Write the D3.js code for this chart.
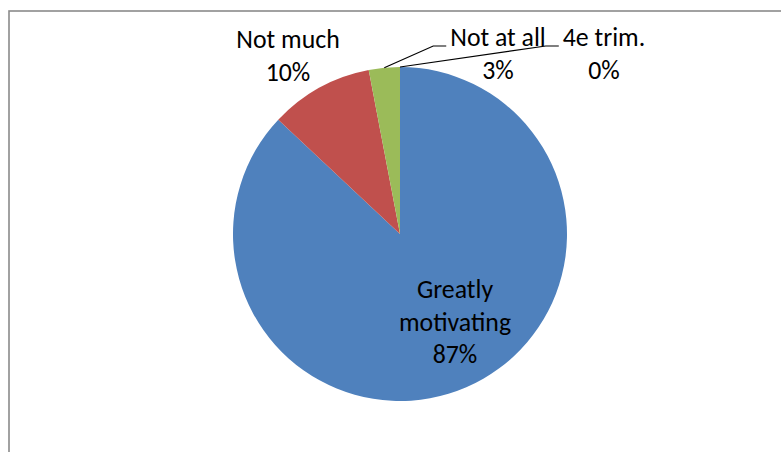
<!DOCTYPE html>
<html>
<head>
<meta charset="utf-8">
<script src="https://cdn.jsdelivr.net/npm/d3@7"></script>
<style>
  html, body { margin: 0; padding: 0; background: #fff; }
  svg { display: block; }
  text { font-family: Carlito, Calibri, Lato, "Liberation Sans", sans-serif; fill: #000; }
</style>
</head>
<body>
<svg id="chart" width="781" height="452"></svg>
<script>
// Survey answers and their shares (percent)
const categories = ["Greatly motivating", "Not much", "Not at all", "4e trim."];
const values = [87, 10, 3, 0];
const colors = ["#4F81BD", "#C0504D", "#9BBB59", "#8064A2"];

// Label text lines per category (the name may wrap over two lines)
const labelLines = [["Greatly", "motivating"], ["Not much"], ["Not at all"], ["4e trim."]];

const W = 781, H = 452;
const cx = 400, cy = 234, radius = 167;
const fontSize = 25.8, lineH = 32.5;

const svg = d3.select("#chart");

// Chart area frame (runs off the right and bottom edges)
svg.append("rect")
  .attr("x", 9).attr("y", 11)
  .attr("width", W + 20).attr("height", H + 20)
  .attr("fill", "none")
  .attr("stroke", "#8a8a8a")
  .attr("stroke-width", 1.6);

const total = d3.sum(values);
const data = categories.map((c, i) => ({ name: c, value: values[i], color: colors[i], lines: labelLines[i] }));

const pie = d3.pie().value(d => d.value).sort(null).startAngle(0).endAngle(2 * Math.PI);
const arcs = pie(data);
const arc = d3.arc().innerRadius(0).outerRadius(radius);

const g = svg.append("g").attr("transform", `translate(${cx},${cy})`);

g.selectAll("path.slice")
  .data(arcs)
  .join("path")
  .attr("class", "slice")
  .attr("d", arc)
  .attr("fill", d => d.data.color);

// Label placement relative to the pie centre (x = centre of text, y = first baseline)
const labelPos = {
  "Greatly motivating": { x: 55, y: 64 },
  "Not much": { x: -112, y: -186 },
  "Not at all": { x: 98, y: -188, leader: true },
  "4e trim.": { x: 204, y: -188, leader: true }
};

const pct = v => Math.round(v / total * 100) + "%";

arcs.forEach(a => {
  const p = labelPos[a.data.name];
  const lines = a.data.lines.concat([pct(a.data.value)]);
  const t = g.append("text")
    .attr("text-anchor", "middle")
    .style("font-size", fontSize + "px");
  lines.forEach((ln, i) => {
    t.append("tspan")
      .attr("x", p.x)
      .attr("y", p.y + i * lineH)
      .text(ln);
  });

  if (p.leader) {
    // Leader line from the slice edge at its mid angle to just left of the label
    const mid = (a.startAngle + a.endAngle) / 2;
    const sx = Math.sin(mid) * radius, sy = -Math.cos(mid) * radius;
    const firstW = t.select("tspan").node().getComputedTextLength();
    const ex = p.x - firstW / 2 - 4;
    const ey = p.y;
    g.append("polyline")
      .attr("points", [[sx, sy], [ex - 13, ey], [ex, ey]].map(q => q.join(",")).join(" "))
      .attr("fill", "none")
      .attr("stroke", "#000")
      .attr("stroke-width", 1.2);
  }
});
</script>
</body>
</html>
